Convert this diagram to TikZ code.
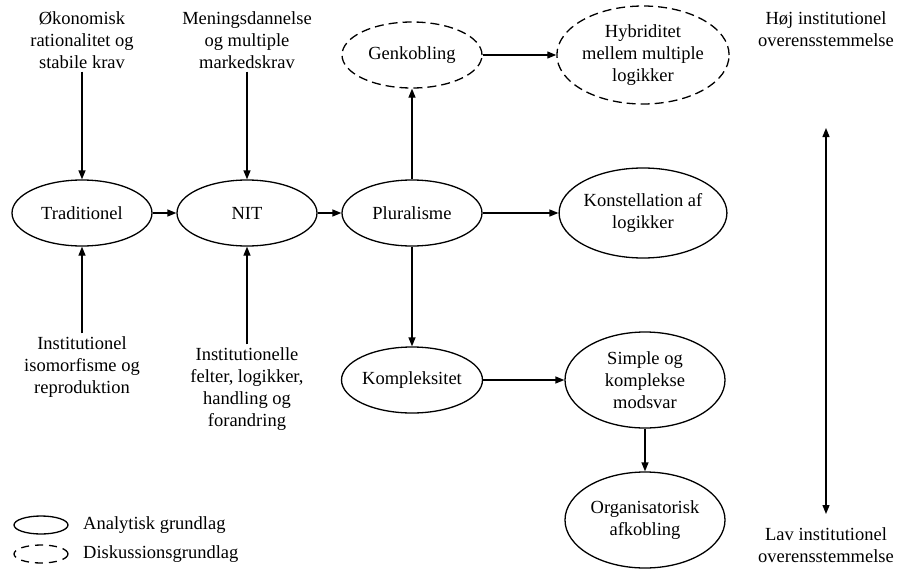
\documentclass[tikz,border=0pt]{standalone}
\usepackage{fontspec}
\setmainfont{Liberation Serif}
\usetikzlibrary{shapes.geometric,arrows.meta}

\tikzset{
  analyse/.style={ellipse, draw, line width=1.3pt, align=center, inner sep=0pt},
  diskussion/.style={analyse, dash pattern=on 9pt off 5pt},
  tekst/.style={align=center, inner sep=3pt},
  pil/.style={line width=1.3pt, -{Triangle[length=9pt,width=7pt]}},
}

\begin{document}
\begin{tikzpicture}[x=1pt, y=-1pt, font=\rmfamily\fontsize{18.5}{22}\selectfont]
    \useasboundingbox (0,0) rectangle (899,570);
    % hovedspor
    \node[analyse, minimum width=140pt, minimum height=66pt] (trad) at (82,213) {Traditionel};
    \node[analyse, minimum width=140pt, minimum height=66pt] (nit) at (247,213) {NIT};
    \node[analyse, minimum width=140pt, minimum height=66pt] (plur) at (412,213) {Pluralisme};
    \node[analyse, minimum width=160pt, minimum height=90pt] (konst) at (643,213) {Konstellation af\\logikker};

    % diskussion
    \node[diskussion, minimum width=140pt, minimum height=66pt] (genk) at (412,55) {Genkobling};
    \node[diskussion, minimum width=152pt, minimum height=98pt] (hybr) at (643,55) {Hybriditet\\mellem multiple\\logikker};

    % kompleksitet
    \node[analyse, minimum width=138pt, minimum height=66pt] (kompl) at (412,380) {Kompleksitet};
    \node[analyse, minimum width=160pt, minimum height=96pt] (simp) at (645,380) {Simple og\\komplekse\\modsvar};
    \node[analyse, minimum width=160pt, minimum height=96pt] (org) at (645,520) {Organisatorisk\\afkobling};

    % teorier
    \node[tekst] (oek) at (82,40) {Økonomisk\\rationalitet og\\stabile krav};
    \node[tekst] (men) at (247,40) {Meningsdannelse\\og multiple\\markedskrav};
    \node[tekst] (iso) at (82,367) {Institutionel\\isomorfisme og\\reproduktion};
    \node[tekst] (felt) at (247,389) {Institutionelle\\felter, logikker,\\handling og\\forandring};

    % skala
    \node[tekst] (hoej) at (826,29) {Høj institutionel\\overensstemmelse};
    \node[tekst] (lav) at (826,545) {Lav institutionel\\overensstemmelse};
    \coordinate (skalatop) at (826,128);
    \coordinate (skalabund) at (826,514);

    \draw[pil] (oek) -- (trad);
    \draw[pil] (iso) -- (trad);
    \draw[pil] (men) -- (nit);
    \draw[pil] (felt) -- (nit);
    \draw[pil] (trad) -- (nit);
    \draw[pil] (nit) -- (plur);
    \draw[pil] (plur) -- (konst);
    \draw[pil] (plur) -- (genk);
    \draw[pil] (plur) -- (kompl);
    \draw[pil] (genk) -- (hybr);
    \draw[pil] (kompl) -- (simp);
    \draw[pil] (simp) -- (org);
    \draw[pil, {Triangle[length=9pt,width=7pt]}-{Triangle[length=9pt,width=7pt]}] (skalatop) -- (skalabund);

    % forklaring
    \node[analyse, minimum width=54pt, minimum height=18pt] (legA) at (41,525) {};
    \node[diskussion, dash pattern=on 8pt off 6pt, minimum width=54pt, minimum height=18pt] (legD) at (41,554) {};
    \node[anchor=west, inner sep=0pt] (txtA) at (83,525) {Analytisk grundlag};
    \node[anchor=west, inner sep=0pt] (txtD) at (83,554) {Diskussionsgrundlag};
\end{tikzpicture}
\end{document}
